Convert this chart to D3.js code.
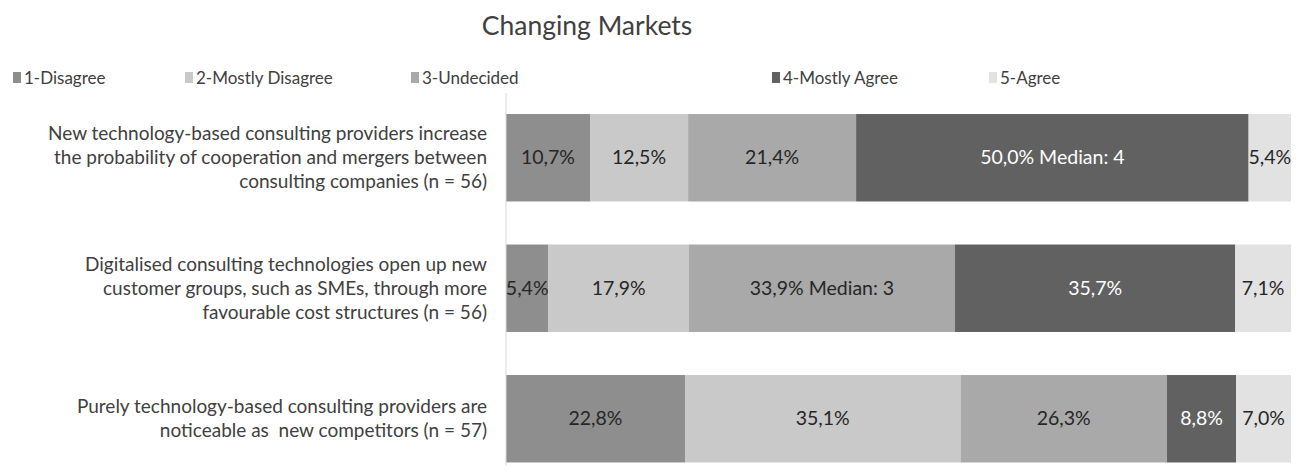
<!DOCTYPE html>
<html>
<head>
<meta charset="utf-8">
<script src="https://cdn.jsdelivr.net/npm/d3@7"></script>
<style>
  html, body { margin: 0; padding: 0; background: #fff; }
  svg { display: block; font-family: Lato, "Open Sans", sans-serif; }
</style>
</head>
<body>
<svg id="chart" width="1314" height="476"></svg>
<script>
const title = "Changing Markets";
const categories = [
  ["New technology-based consulting providers increase", "the probability of cooperation and mergers between", "consulting companies (n = 56)"],
  ["Digitalised consulting technologies open up new", "customer groups, such as SMEs, through more", "favourable cost structures (n = 56)"],
  ["Purely technology-based consulting providers are", "noticeable as  new competitors (n = 57)"]
];
const seriesNames = ["1-Disagree", "2-Mostly Disagree", "3-Undecided", "4-Mostly Agree", "5-Agree"];
const disagree       = [10.7, 5.4, 22.8];
const mostlyDisagree = [12.5, 17.9, 35.1];
const undecided      = [21.4, 33.9, 26.3];
const mostlyAgree    = [50.0, 35.7, 8.8];
const agree          = [5.4, 7.1, 7.0];
const medians        = [4, 3, null];

const seriesValues = [disagree, mostlyDisagree, undecided, mostlyAgree, agree];
const colors = ["#8e8e8e", "#c9c9c9", "#a9a9a9", "#616161", "#e2e2e2"];
const labelColors = ["#262626", "#262626", "#262626", "#ffffff", "#262626"];

const svg = d3.select("#chart");
const x = d3.scaleLinear().domain([0, 100]).range([506, 1291]);
const y = d3.scaleBand().domain(d3.range(categories.length)).range([92.5, 484]).paddingInner(0.33).paddingOuter(0.165);

// title
svg.append("text").attr("x", 587).attr("y", 35).attr("text-anchor", "middle")
  .attr("font-size", 26.5).attr("fill", "#404040").text(title);

// legend
const legendX = [13, 185, 411, 772, 989];
seriesNames.forEach((n, i) => {
  const g = svg.append("g").attr("transform", `translate(${legendX[i]},72)`);
  g.append("rect").attr("x", 0).attr("y", 0).attr("width", 8).attr("height", 11).attr("fill", colors[i]);
  g.append("text").attr("x", 11).attr("y", 11.5).attr("font-size", 17).attr("fill", "#404040").text(n);
});

// stacked bars
const rows = categories.map((c, i) => seriesValues.map(s => s[i]));
rows.forEach((vals, ci) => {
  let cum = 0;
  const medianSeries = medians[ci] == null ? -1 : medians[ci] - 1;
  vals.forEach((v, si) => {
    const x0 = x(cum), x1 = x(cum + v);
    svg.append("rect").attr("x", x0).attr("y", y(ci)).attr("width", x1 - x0).attr("height", y.bandwidth())
      .attr("fill", colors[si]);
    const lbl = d3.format(".1f")(v).replace(".", ",") + "%" + (si === medianSeries ? " Median: " + medians[ci] : "");
    svg.append("text").attr("x", (x0 + x1) / 2).attr("y", y(ci) + y.bandwidth() / 2 + 6.5)
      .attr("text-anchor", "middle").attr("font-size", 19.5).attr("fill", labelColors[si]).text(lbl);
    cum += v;
  });
  const lines = categories[ci];
  const cy = y(ci) + y.bandwidth() / 2;
  lines.forEach((l, li) => {
    svg.append("text").attr("x", 487).attr("y", cy + (li - (lines.length - 1) / 2) * 24 + 6.5)
      .attr("text-anchor", "end").attr("font-size", 19).attr("fill", "#404040")
      .attr("xml:space", "preserve").style("white-space", "pre").text(l);
  });
});

// axis line
svg.append("line").attr("x1", 506).attr("x2", 506).attr("y1", 93).attr("y2", 466)
  .attr("stroke", "#d9d9d9").attr("stroke-width", 1);
</script>
</body>
</html>
